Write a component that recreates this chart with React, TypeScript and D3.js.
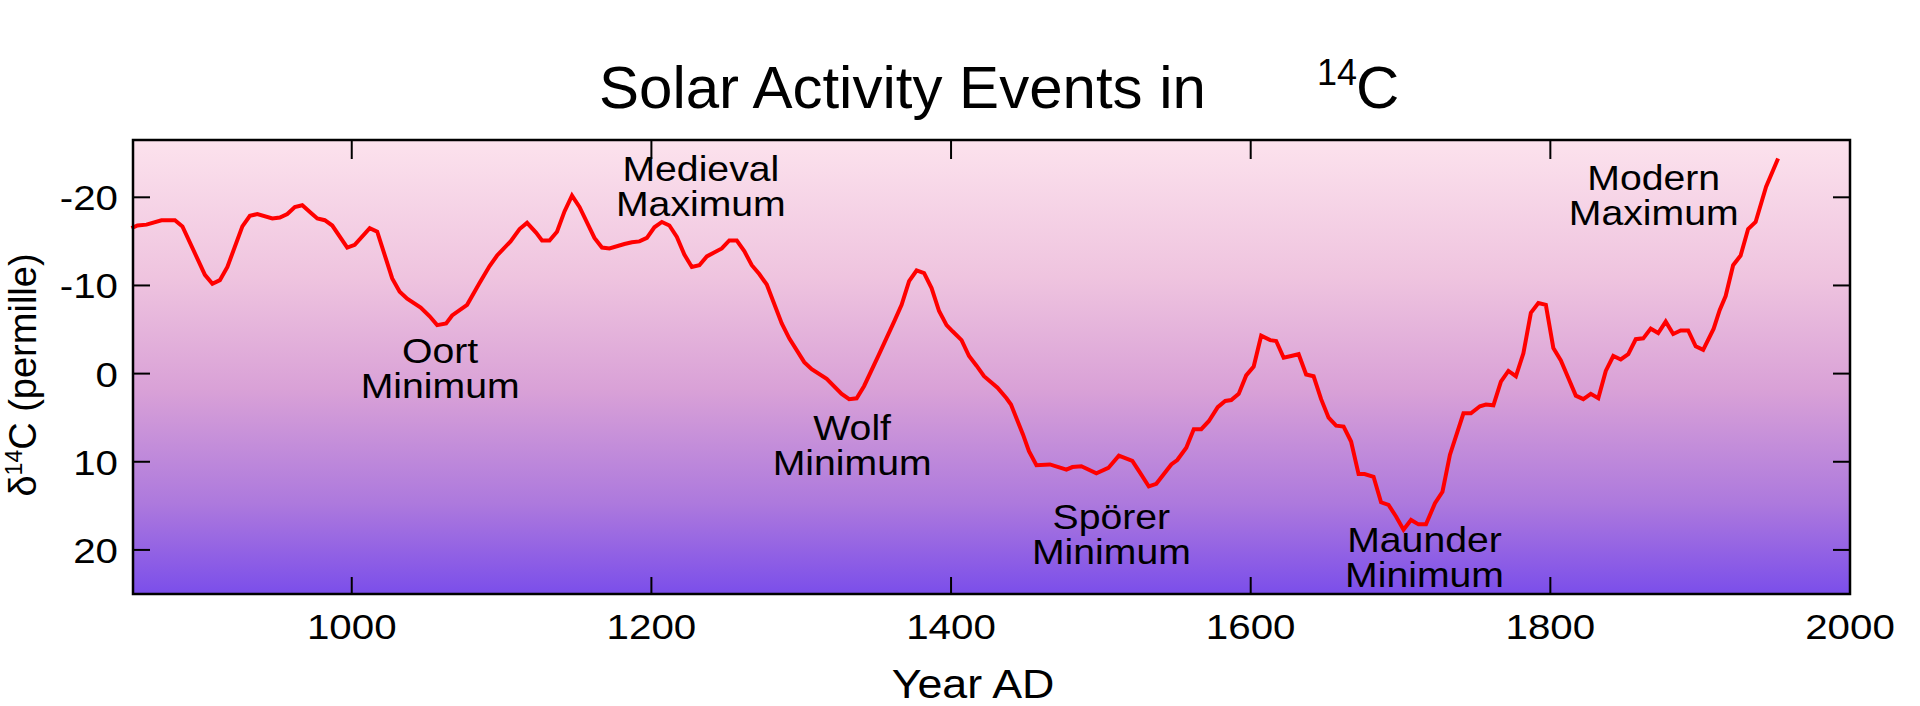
import React from "react";
import * as d3 from "d3";

const years = [853,857,863,873,882,887,902,907,912,917,927,932,937,947,952,957,962,967,973,977,982,987,997,1002,1012,1017,1027,1032,1037,1046,1052,1057,1063,1067,1077,1085,1092,1097,1106,1112,1117,1123,1127,1132,1137,1142,1147,1152,1162,1167,1172,1182,1187,1192,1197,1202,1207,1212,1217,1222,1227,1232,1237,1247,1252,1257,1262,1267,1272,1277,1287,1292,1302,1307,1317,1327,1332,1337,1342,1352,1362,1367,1372,1377,1382,1387,1392,1397,1401,1407,1412,1417,1422,1431,1437,1440,1448,1452,1457,1466,1477,1481,1487,1497,1505,1512,1521,1526,1532,1537,1547,1551,1557,1562,1567,1572,1578,1583,1587,1592,1597,1602,1607,1613,1617,1622,1627,1632,1637,1642,1647,1652,1657,1662,1667,1672,1676,1682,1687,1692,1697,1702,1707,1712,1717,1723,1728,1733,1742,1747,1753,1757,1762,1767,1772,1777,1782,1787,1792,1797,1802,1807,1812,1817,1822,1827,1832,1837,1842,1847,1852,1857,1862,1867,1872,1877,1882,1887,1892,1897,1902,1909,1913,1917,1922,1927,1932,1937,1944,1952];
const delta14C = [-16.5,-16.8,-16.9,-17.4,-17.4,-16.7,-11.2,-10.2,-10.6,-12.1,-16.7,-17.9,-18.1,-17.6,-17.7,-18.1,-18.9,-19.1,-18.2,-17.6,-17.4,-16.8,-14.3,-14.6,-16.5,-16.1,-10.8,-9.3,-8.5,-7.5,-6.5,-5.5,-5.7,-6.6,-7.8,-10.2,-12.2,-13.4,-15.0,-16.4,-17.1,-16.0,-15.1,-15.1,-16.1,-18.4,-20.2,-18.9,-15.4,-14.3,-14.2,-14.7,-14.9,-15.0,-15.4,-16.6,-17.2,-16.8,-15.5,-13.5,-12.1,-12.3,-13.3,-14.2,-15.1,-15.1,-13.9,-12.3,-11.3,-10.1,-5.7,-4.0,-1.3,-0.5,0.6,2.3,2.9,2.8,1.4,-2.2,-5.9,-7.8,-10.5,-11.7,-11.4,-9.7,-7.1,-5.5,-4.8,-3.8,-2.0,-0.9,0.3,1.6,2.8,3.5,6.9,8.8,10.4,10.3,10.9,10.6,10.5,11.3,10.7,9.3,9.9,11.2,12.8,12.5,10.3,9.8,8.4,6.3,6.3,5.4,3.8,3.1,3.0,2.3,0.2,-0.8,-4.3,-3.8,-3.7,-1.8,-2.0,-2.2,0.1,0.3,2.9,5.0,5.9,6.0,7.7,11.4,11.4,11.7,14.6,14.9,16.2,17.7,16.6,17.1,17.1,14.7,13.4,9.2,4.5,4.5,3.7,3.5,3.6,0.9,-0.3,0.3,-2.3,-6.9,-8.0,-7.8,-2.9,-1.5,0.5,2.5,2.9,2.3,2.8,-0.3,-2.0,-1.6,-2.2,-3.9,-4.0,-5.1,-4.6,-5.9,-4.5,-4.9,-4.9,-3.1,-2.7,-5.1,-7.2,-8.8,-12.3,-13.4,-16.4,-17.2,-21.2,-24.4];

const xTicks = [1000, 1200, 1400, 1600, 1800, 2000];
const yTicks = [-20, -10, 0, 10, 20];

const events = [
  { lines: ["Medieval", "Maximum"], year: 1233, value: -21.8 },
  { lines: ["Oort", "Minimum"], year: 1059, value: -1.2 },
  { lines: ["Wolf", "Minimum"], year: 1334, value: 7.5 },
  { lines: ["Spörer", "Minimum"], year: 1507, value: 17.6 },
  { lines: ["Maunder", "Minimum"], year: 1716, value: 20.2 },
  { lines: ["Modern", "Maximum"], year: 1869, value: -20.8 },
];

const W = 1920, H = 706;
const left = 133, right = 1850, top = 140, bottom = 594;

export default function App() {
  const x = d3.scaleLinear().domain([854, 2000]).range([left, right]);
  const y = d3.scaleLinear().domain([-26.5, 25]).range([top, bottom]);
  const pts = years.map((yr, i) => [yr, delta14C[i]] as [number, number]);
  const line = d3.line<[number, number]>().x(d => x(d[0])).y(d => y(d[1]))(pts) || "";
  const font = "'Liberation Sans', Arial, sans-serif";
  const sx = 1.12;
  const lineGap = 35;
  return (
    <svg width={W} height={H} style={{ position: "absolute", left: 0, top: 0, background: "#fff" }} fontFamily={font}>
      <defs>
        <linearGradient id="bg" x1="0" y1="0" x2="0" y2="1">
          <stop offset="0" stopColor="#fce2ed" />
          <stop offset="0.3" stopColor="#efc4df" />
          <stop offset="0.55" stopColor="#d9a1d7" />
          <stop offset="0.8" stopColor="#ad79dd" />
          <stop offset="1" stopColor="#7b4eea" />
        </linearGradient>
      </defs>
      <rect x={left} y={top} width={right - left} height={bottom - top} fill="url(#bg)" />
      <path d={line} fill="none" stroke="#ff0000" strokeWidth={4} strokeLinejoin="miter" />
      {xTicks.filter(t => t < 2000).map(t => (
        <g key={t}>
          <line x1={x(t)} x2={x(t)} y1={bottom} y2={bottom - 17} stroke="#000" strokeWidth={2} />
          <line x1={x(t)} x2={x(t)} y1={top} y2={top + 19} stroke="#000" strokeWidth={2} />
        </g>
      ))}
      {yTicks.map(t => (
        <g key={t}>
          <line x1={left} x2={left + 17} y1={y(t)} y2={y(t)} stroke="#000" strokeWidth={2} />
          <line x1={right} x2={right - 17} y1={y(t)} y2={y(t)} stroke="#000" strokeWidth={2} />
        </g>
      ))}
      <rect x={left} y={top} width={right - left} height={bottom - top} fill="none" stroke="#000" strokeWidth={2.5} />
      {xTicks.map(t => (
        <g key={t} transform={`translate(${x(t)},639) scale(${sx},1)`}>
          <text textAnchor="middle" fontSize={36}>{t}</text>
        </g>
      ))}
      {yTicks.map(t => (
        <g key={t} transform={`translate(118,${y(t) + 13}) scale(${sx},1)`}>
          <text textAnchor="end" fontSize={36}>{t}</text>
        </g>
      ))}
      {events.map((e, i) => (
        <g key={i} transform={`translate(${x(e.year)},${y(e.value)}) scale(${sx},1)`}>
          <text textAnchor="middle" fontSize={35}>
            {e.lines.map((s, j) => (
              <tspan key={j} x={0} y={j * lineGap}>{s}</tspan>
            ))}
          </text>
        </g>
      ))}
      <g transform={`translate(973,698) scale(${sx},1)`}>
        <text textAnchor="middle" fontSize={40}>Year AD</text>
      </g>
      <g transform="translate(36,375) rotate(-90)">
        <text textAnchor="middle" fontSize={38}>
          δ<tspan fontSize={23} dy={-14}>14</tspan><tspan dy={14}>C (permille)</tspan>
        </text>
      </g>
      <text x={599} y={108} fontSize={60}>Solar Activity Events in</text>
      <text x={1317} y={85} fontSize={36}>14</text>
      <text x={1356} y={108} fontSize={60}>C</text>
    </svg>
  );
}
